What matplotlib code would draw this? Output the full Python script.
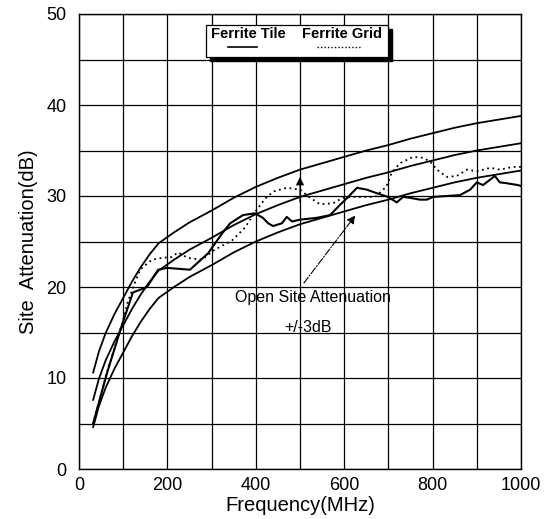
import numpy as np
import matplotlib
matplotlib.use("Agg")
import matplotlib.pyplot as plt
from matplotlib.patches import Rectangle

plt.rcParams["font.family"] = ["Liberation Sans", "DejaVu Sans"]

# open site attenuation (theoretical) and the +/-3dB limits
freq_osa = [32, 45, 60, 80, 100, 120, 140, 160, 180, 215, 250, 300, 350, 400, 450, 500,
            550, 600, 650, 700, 750, 800, 850, 900, 950, 1000]
osa = [7.6, 9.9, 11.9, 14.0, 15.8, 17.6, 19.2, 20.6, 21.8, 23.0, 24.1, 25.4, 26.8, 28.0,
       29.0, 29.9, 30.6, 31.3, 32.0, 32.6, 33.3, 33.9, 34.5, 35.0, 35.4, 35.8]
tol = 3.0

# ferrite tile measurement (solid)
freq_tile = [32, 63, 97, 122, 154, 179, 199, 251, 292, 324, 342, 371, 398, 416, 428,
             439, 459, 470, 482, 500, 538, 568, 590, 609, 629, 651, 674, 699, 719,
             733, 749, 771, 787, 801, 832, 862, 885, 900, 914, 941, 952, 968, 993, 1000]
tile = [5.0, 10.5, 15.8, 19.4, 20.0, 21.9, 22.1, 21.9, 23.7, 25.9, 27.0, 27.9, 28.1, 27.6, 27.0,
        26.7, 27.0, 27.7, 27.2, 27.4, 27.6, 27.9, 29.0, 29.9, 30.9, 30.7, 30.3, 29.9, 29.3,
        29.9, 29.8, 29.6, 29.6, 29.9, 30.0, 30.1, 30.7, 31.5, 31.2, 32.2, 31.5, 31.4, 31.2, 31.1]

# ferrite grid measurement (dotted)
freq_grid = [32, 63, 97, 110, 122, 138, 165, 188, 210, 224, 246, 278, 307, 346, 375, 398,
             421, 440, 470, 500, 523, 545, 575, 597, 620, 643, 670, 695, 708, 726, 756,
             778, 794, 810, 832, 855, 878, 900, 930, 952, 982, 1000]
grid = [5.0, 10.6, 15.9, 18.3, 19.9, 21.9, 23.0, 23.2, 23.3, 23.8, 23.2, 23.0, 24.1, 25.1, 26.5, 28.2,
        29.7, 30.5, 30.9, 30.7, 29.8, 29.1, 29.2, 29.8, 29.9, 29.9, 29.9, 31.0, 32.6, 33.6, 34.3,
        34.2, 33.8, 32.9, 32.1, 32.2, 32.9, 32.7, 33.1, 32.9, 33.2, 33.2]

x_ticks = [0, 200, 400, 600, 800, 1000]
y_ticks = [0, 10, 20, 30, 40, 50]

fig = plt.figure(figsize=(5.55, 5.19), dpi=100)
ax = fig.add_axes([79 / 555, 1 - 469 / 519, 442 / 555, 455 / 519])

osa = np.array(osa)
ax.plot(freq_osa, osa + tol, "k-", lw=1.3)
ax.plot(freq_osa, osa, "k-", lw=1.3)
ax.plot(freq_osa, osa - tol, "k-", lw=1.3)
ax.plot(freq_tile, tile, "k-", lw=1.5)
ax.plot(freq_grid, grid, color="k", lw=1.3, linestyle=(0, (1, 2)))

ax.set_xlim(0, 1000)
ax.set_ylim(0, 50)
ax.set_xticks(x_ticks)
ax.set_xticks(range(0, 1001, 100), minor=True)
ax.set_yticks(y_ticks)
ax.set_yticks(range(0, 51, 5), minor=True)
ax.grid(which="both", color="k", lw=0.9)
ax.set_axisbelow(True)
ax.tick_params(which="both", length=0, labelsize=13)
ax.tick_params(axis="x", pad=6)
ax.tick_params(axis="y", pad=9)
for s in ax.spines.values():
    s.set_linewidth(1.0)

ax.set_xlabel("Frequency(MHz)", fontsize=14.5, labelpad=1)
ax.set_ylabel("Site  Attenuation(dB)", fontsize=14.5, labelpad=6)

# annotations
ax.text(0.53, 0.377, "Open Site Attenuation", transform=ax.transAxes,
        ha="center", va="center", fontsize=11.5)
ax.text(0.517, 0.31, "+/-3dB", transform=ax.transAxes,
        ha="center", va="center", fontsize=11.5)
ax.annotate("", xy=(629, 28.1), xytext=(505, 20.2),
            arrowprops=dict(arrowstyle="-|>", color="k", lw=0.8, ls="-.",
                            mutation_scale=12))
ax.annotate("", xy=(500, 32.4), xytext=(500, 29.0),
            arrowprops=dict(arrowstyle="-|>", color="k", lw=0.8,
                            mutation_scale=12))

# legend box with drop shadow
bx0, bx1, by0, by1 = 0.287, 0.699, 0.9055, 0.9758
ax.add_patch(Rectangle((bx0 + 0.009, by0 - 0.009), bx1 - bx0, by1 - by0,
                       transform=ax.transAxes, facecolor="k", edgecolor="k",
                       zorder=5, clip_on=False))
ax.add_patch(Rectangle((bx0, by0), bx1 - bx0, by1 - by0,
                       transform=ax.transAxes, facecolor="white", edgecolor="k",
                       lw=0.9, zorder=6, clip_on=False))
ax.text(0.383, 0.956, "Ferrite Tile", transform=ax.transAxes, ha="center",
        va="center", fontsize=10.5, fontweight="bold", zorder=7)
ax.text(0.594, 0.956, "Ferrite Grid", transform=ax.transAxes, ha="center",
        va="center", fontsize=10.5, fontweight="bold", zorder=7)
ax.plot([0.337, 0.403], [0.927, 0.927], "k-", lw=1.2, transform=ax.transAxes,
        zorder=7, clip_on=False)
ax.plot([0.538, 0.640], [0.927, 0.927], color="k", lw=1.0, linestyle=(0, (1, 1.5)),
        transform=ax.transAxes, zorder=7, clip_on=False)

plt.savefig("out.png", dpi=100)
plt.close()
